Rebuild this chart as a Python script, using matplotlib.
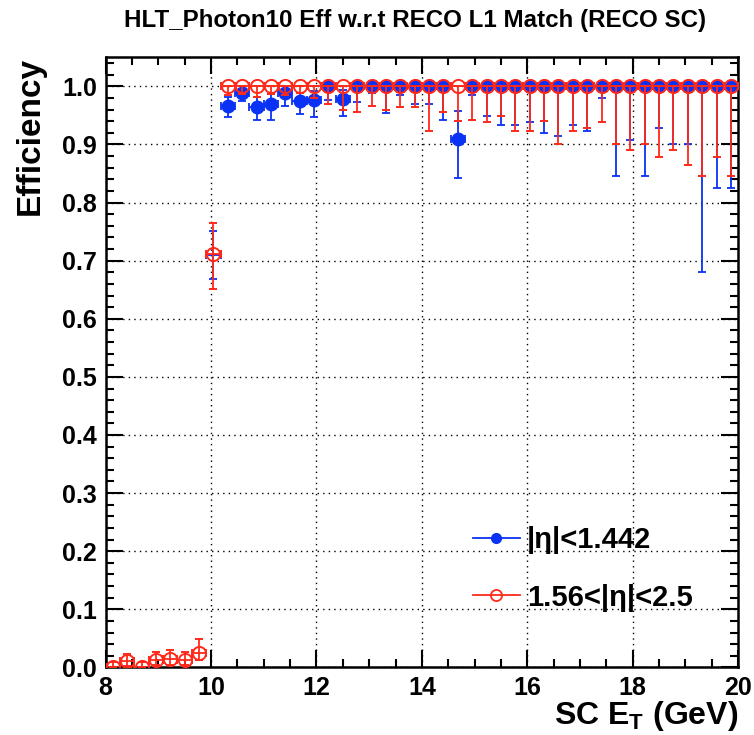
import numpy as np
import matplotlib
matplotlib.use("Agg")
import matplotlib.pyplot as plt
from matplotlib.lines import Line2D

plt.rcParams['font.family'] = ['Liberation Sans', 'DejaVu Sans']
plt.rcParams['font.weight'] = 'bold'
plt.rcParams['mathtext.fontset'] = 'custom'
plt.rcParams['mathtext.rm'] = 'Liberation Sans:bold'
plt.rcParams['mathtext.it'] = 'Liberation Sans:bold'
plt.rcParams['mathtext.bf'] = 'Liberation Sans:bold'

# 44 bins between 8 and 20 GeV
bin_edges = np.linspace(8, 20, 45)
bin_centres = 0.5 * (bin_edges[1:] + bin_edges[:-1])
half_width = 0.5 * (bin_edges[1:] - bin_edges[:-1])

# endcap 1.56<|eta|<2.5 (all 44 bins)
red_eff = [0.0, 0.011, 0.0, 0.0126, 0.0137, 0.0126, 0.025, 0.711,
           1.0, 1.0, 1.0, 1.0, 1.0, 1.0, 1.0, 1.0, 1.0, 1.0, 1.0, 1.0, 1.0, 1.0,
           1.0, 1.0, 1.0, 1.0, 1.0, 1.0, 1.0, 1.0, 1.0, 1.0, 1.0, 1.0, 1.0, 1.0,
           1.0, 1.0, 1.0, 1.0, 1.0, 1.0, 1.0, 1.0]
red_lo = [0.0, 0.008, 0.0, 0.008, 0.009, 0.008, 0.013, 0.059,
          0.015, 0.013, 0.019, 0.013, 0.015, 0.012, 0.02, 0.0305, 0.04, 0.044,
          0.0345, 0.04, 0.036, 0.036, 0.076, 0.044, 0.06, 0.0575, 0.062, 0.051,
          0.076, 0.076, 0.06, 0.1, 0.076, 0.072, 0.062, 0.1, 0.11, 0.1, 0.122,
          0.11, 0.135, 0.154, 0.122, 0.154]
red_hi = [0.01, 0.012, 0.0097, 0.0145, 0.016, 0.0145, 0.023, 0.053] + [0.0] * 36

# barrel |eta|<1.442 (bins 7..43)
blue_first_bin = 7
blue_eff = [0.71, 0.967, 0.988, 0.964, 0.9695, 0.988, 0.975, 0.977, 1.0, 0.979,
            1.0, 1.0, 1.0, 1.0, 1.0, 1.0, 1.0, 0.91, 1.0, 1.0, 1.0, 1.0, 1.0,
            1.0, 1.0, 1.0, 1.0, 1.0, 1.0, 1.0, 1.0, 1.0, 1.0, 1.0, 1.0, 1.0, 1.0]
blue_lo = [0.041, 0.020, 0.013, 0.022, 0.027, 0.022, 0.023, 0.030, 0.023, 0.030,
           0.027, 0.012, 0.045, 0.015, 0.0305, 0.0305, 0.0575, 0.068, 0.015,
           0.051, 0.067, 0.066, 0.062, 0.08, 0.085, 0.066, 0.076, 0.02, 0.154,
           0.092, 0.154, 0.072, 0.1, 0.1, 0.32, 0.1755, 0.1755]
blue_hi = [0.041, 0.015, 0.008, 0.017, 0.017, 0.008, 0.013, 0.015, 0.0, 0.015,
           0.0, 0.0, 0.0, 0.0, 0.0, 0.0, 0.0, 0.048] + [0.0] * 19

blue_col = '#0a32f5'
red_col = '#ff2a1a'

fig = plt.figure(figsize=(7.54, 7.35), dpi=100)
ax = fig.add_axes([0.140, 0.092, 0.839, 0.830])

bx = bin_centres[blue_first_bin:]
bw = half_width[blue_first_bin:]
ax.errorbar(bx, blue_eff, yerr=[blue_lo, blue_hi], xerr=bw, fmt='none',
            ecolor=blue_col, elinewidth=1.3, capsize=3.2, capthick=1.3, zorder=3)
# the first barrel point has no visible marker in the original
ax.plot(bx[1:], blue_eff[1:], 'o', color=blue_col, ms=9, zorder=4)

ax.errorbar(bin_centres, red_eff, yerr=[red_lo, red_hi], xerr=half_width,
            fmt='o', color=red_col, mfc='none', mec=red_col, mew=1.4, ms=9.5,
            elinewidth=1.3, capsize=3.2, capthick=1.3, zorder=5)

ax.set_xlim(8, 20)
ax.set_ylim(0, 1.05)
ax.set_xticks(np.arange(8, 21, 2))
ax.set_xticks(np.arange(8, 20.01, 0.5), minor=True)
ax.set_yticks(np.arange(0, 1.01, 0.1))
ax.set_yticks(np.arange(0, 1.05, 0.02), minor=True)
ax.yaxis.set_major_formatter(plt.FormatStrFormatter('%.1f'))
ax.grid(True, which='major', color='black', linestyle=(0, (1, 3)), linewidth=1)

ax.tick_params(which='both', direction='in', top=True, right=True,
               labelsize=18, width=1.5, pad=6)
ax.tick_params(which='major', length=12)
ax.tick_params(which='minor', length=6)
for s in ax.spines.values():
    s.set_linewidth(1.8)

ax.set_ylabel('Efficiency', fontsize=24, fontweight='bold', loc='top')
ax.yaxis.set_label_coords(-0.095, 1.0)
ax.set_xlabel(r'SC E$_{\mathrm{T}}$ (GeV)', fontsize=23, fontweight='bold', loc='right')
ax.xaxis.set_label_coords(1.0, -0.052)

fig.text(0.551, 0.972, 'HLT_Photon10 Eff w.r.t RECO L1 Match (RECO SC)',
         ha='center', va='center', fontsize=17.4, fontweight='bold')

handles = [Line2D([], [], color=blue_col, marker='o', ms=7, lw=1.3),
           Line2D([], [], color=red_col, marker='o', mfc='none', ms=8, mew=1.3, lw=1.3)]
ax.legend(handles, ['|η|<1.442', '1.56<|η|<2.5'], loc='upper left',
          bbox_to_anchor=(0.558, 0.255), frameon=False, fontsize=21,
          handlelength=1.6, handletextpad=0.25, labelspacing=1.0, borderpad=0)

fig.savefig('out.png', dpi=100)
